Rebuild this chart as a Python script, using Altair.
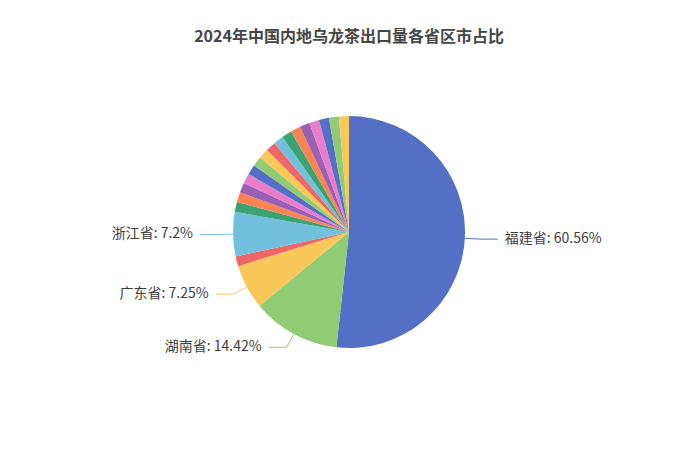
import math
import altair as alt
import pandas as pd

# ---- data ----
names = ["福建省", "湖南省", "广东省", "安徽省", "浙江省", "云南省", "广西壮族自治区", "江西省",
         "四川省", "贵州省", "湖北省", "山东省", "河南省", "江苏省", "上海市", "重庆市",
         "陕西省", "北京市", "天津市", "海南省", "甘肃省"]
pcts = [60.56, 14.42, 7.25, 1.2, 7.2, 1.0, 0.9, 0.8, 0.75, 0.7, 0.65, 0.6, 0.55, 0.5,
        0.45, 0.4, 0.38, 0.34, 0.3, 0.26, 0.22]
palette = ["#5470c6", "#91cc75", "#fac858", "#ee6666", "#73c0de", "#3ba272",
           "#fc8452", "#9a60b4", "#ea7ccc"]
title_text = "2024年中国内地乌龙茶出口量各省区市占比"
label_min_pct = 5  # only the large slices carry labels

# ---- pie layout with a minimum slice angle (as in the source chart) ----
MIN_ANGLE = 5.0
angles = [p * 360 / sum(pcts) for p in pcts]
small = [a < MIN_ANGLE for a in angles]
rest = 360 - MIN_ANGLE * sum(small)
big_sum = sum(p for p, s in zip(pcts, small) if not s)
angles = [MIN_ANGLE if s else p * rest / big_sum for p, s in zip(pcts, small)]

PAD = 10
W, H = 682 - 2 * PAD, 448 - 2 * PAD
CX, CY = W / 2, H / 2
R = 116
L1, L2, GAP = 15, 18, 7

colors = [palette[i % len(palette)] for i in range(len(names))]
df = pd.DataFrame({"name": names, "pct": pcts, "angle": angles,
                   "order": list(range(len(names))), "color": colors})

# label geometry derived from slice mid-angles
line_rows, text_rows = [], []
start = 0.0
for i, (n, p, a) in enumerate(zip(names, pcts, angles)):
    mid = math.radians(start + a / 2)
    start += a
    if p < label_min_pct:
        continue
    sx, sy = math.sin(mid), -math.cos(mid)
    p0 = (CX + R * sx, CY + R * sy)
    p1 = (CX + (R + L1) * sx, CY + (R + L1) * sy)
    side = 1 if sx >= 0 else -1
    p2 = (p1[0] + side * L2, p1[1])
    for k, pt in enumerate([p0, p1, p2]):
        line_rows.append({"name": n, "k": k, "px": pt[0], "py": pt[1]})
    text_rows.append({"name": n, "label": f"{n}: {p}%", "px": p2[0] + side * GAP,
                      "py": p2[1], "align": "left" if side > 0 else "right"})

lines_df = pd.DataFrame(line_rows)
text_df = pd.DataFrame(text_rows)

color_scale = alt.Scale(domain=names, range=colors)
xs = alt.Scale(domain=[0, W], range=[0, W], nice=False, zero=False)
ys = alt.Scale(domain=[0, H], range=[0, H], nice=False, zero=False)
X = alt.X("px:Q", scale=xs, axis=None)
Y = alt.Y("py:Q", scale=ys, axis=None)

pie = alt.Chart(df).mark_arc(outerRadius=R).encode(
    theta=alt.Theta("angle:Q", stack=True),
    order=alt.Order("order:Q"),
    color=alt.Color("name:N", scale=color_scale, legend=None),
    tooltip=["name:N", "pct:Q"],
)

lines = alt.Chart(lines_df).mark_line(strokeWidth=1).encode(
    x=X, y=Y,
    order="k:Q",
    detail="name:N",
    color=alt.Color("name:N", scale=color_scale, legend=None),
)

text_left = alt.Chart(text_df[text_df["align"] == "left"]).mark_text(
    align="left", baseline="middle", fontSize=14, font="Noto Sans CJK SC", color="#3d3d3d"
).encode(x=X, y=Y, text="label:N")

text_right = alt.Chart(text_df[text_df["align"] == "right"]).mark_text(
    align="right", baseline="middle", fontSize=14, font="Noto Sans CJK SC", color="#3d3d3d"
).encode(x=X, y=Y, text="label:N")

chart = alt.layer(pie, lines, text_left, text_right).properties(
    width=W, height=H,
    autosize=alt.AutoSizeParams(type="none"),
    padding=PAD,
    title=alt.TitleParams(title_text, fontSize=16, font="Noto Sans CJK SC",
                          fontWeight="bold", color="#464646", anchor="middle",
                          offset=-27, dy=0),
).configure_view(strokeWidth=0)

chart.save("out.html", embed_options={"renderer": "svg", "actions": False})
